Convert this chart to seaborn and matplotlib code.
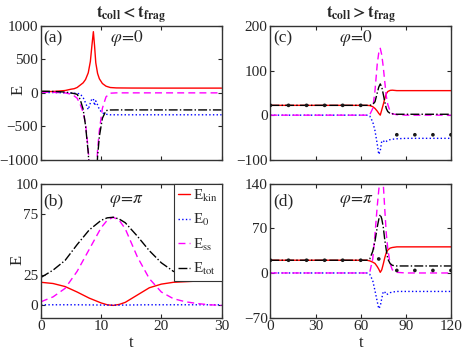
import seaborn as sns
import matplotlib.pyplot as plt

# ---- data ----
labels = ["E$_\\mathrm{kin}$", "E$_\\mathrm{0}$", "E$_\\mathrm{ss}$", "E$_\\mathrm{tot}$"]

# (a) t_coll < t_frag, phi = 0
t_a = [0, 2, 4, 5, 5.5, 6, 6.5, 7, 7.4, 7.85, 8.2, 8.45, 8.7, 8.9, 9.1, 9.4, 9.7,
       10.2, 10.8, 11.5, 12.5, 15, 20, 25, 30]
kin_a = [18, 20, 35, 55, 62, 80, 115, 150, 200, 300, 470, 700, 915, 700, 450, 290, 210,
         140, 100, 80, 74, 72, 71, 71, 71]
e0_a = [5, 5, 0, -3, -5, -8, -15, -70, -150, -250, -150, -90, -90, -190, -120, -180, -250,
        -300, -320, -328, -328, -328, -328, -328, -328]
ss_a = [10, 8, 0, -20, -45, -80, -170, -290, -460, -850, -1400, -1700, -1800, -1700, -1400,
        -850, -560, -230, -60, -5, 0, 0, 0, 0, 0]
tot_a = [25, 22, 12, -2, -10, -22, -96, -244, -490, -900, -1400, -1700, -1800, -1700, -1450,
         -950, -650, -380, -265, -256, -255, -255, -255, -255, -255]

# (b) t_coll < t_frag, phi = pi
t_b = [0, 2, 4, 6, 8, 10, 11, 12, 13, 14, 16, 18, 20, 22, 24, 26, 28, 30]
kin_b = [19, 18, 15.5, 11, 6, 2, 0.5, 0, 0.8, 2.5, 8.5, 14.5, 17.5, 19, 19.5, 20, 20, 20]
e0_b = [0.5, 0.5, 0.5, 0.5, 0.4, 0.3, 0.2, 0.2, 0.2, 0.3, 0.4, 0.5, 0.5, 0.5, 0.5, 0.5, 0.5, 0.5]
ss_b = [3, 7, 14, 28, 46, 64, 70, 72.5, 70, 63, 40, 22, 11, 5.5, 3, 1.5, 0.5, 0]
tot_b = [23, 29, 37, 50, 62, 70, 72, 72.5, 71, 68, 57, 45, 35, 28, 25, 23, 22.5, 22]

# (c) t_coll > t_frag, phi = 0
t_c = [0, 12, 24, 36, 48, 60, 64, 66, 68, 69.5, 71, 72, 73, 74, 75, 76, 77, 78, 79.5,
       81, 84, 90, 100, 110, 120]
kin_c = [22, 22, 22, 22, 22, 22, 22, 21.5, 19, 15, 9, 4, 0, 12, 24, 37, 48, 53, 55.5,
         56, 55, 55, 55, 55, 55]
e0_c = [0, 0, 0, 0, 0, 0, 0, -2, -15, -35, -65, -88, -80, -58, -57, -61, -59, -56, -55,
        -54, -53, -52, -52, -52, -52]
ss_c = [0, 0, 0, 0, 0, 0, 0, 1, 15, 55, 115, 140, 150, 135, 108, 75, 43, 24, 9,
        3, 1, 0, 0, 0, 0]
tot_c = [22, 22, 22, 22, 22, 22, 22, 22, 24, 30, 50, 63, 70, 63, 47, 30, 15, 8, 4,
         3, 2, 2, 2, 2, 2]
dot_t_c = [0, 12, 24, 36, 48, 60, 84, 96, 108, 120]
dot_c = [22, 22, 22, 22, 22, 22, -44, -44, -44, -44]

# (d) t_coll > t_frag, phi = pi
t_d = t_c
kin_d = [20, 20, 20, 20, 20, 20, 20, 19, 17, 15, 10, 6, 1, 5, 14, 24, 32, 36, 39,
         40, 41, 41, 41, 41, 41]
e0_d = [0, 0, 0, 0, 0, 0, 0, -2, -12, -28, -45, -56, -52, -40, -29, -30, -34, -33, -31,
        -30, -29, -29, -29, -29, -29]
ss_d = [0, 0, 0, 0, 0, 0, 0, 1, 22, 61, 105, 130, 150, 155, 140, 100, 62, 38, 15,
        5, 1, 0, 0, 0, 0]
tot_d = [20, 20, 20, 20, 20, 20, 20, 22, 34, 50, 72, 84, 92, 85, 72, 52, 36, 22, 15,
         12, 11, 11, 11, 11, 11]
dot_t_d = [0, 12, 24, 36, 48, 60, 72, 84, 96, 108, 120]
dot_d = [20, 20, 20, 20, 20, 20, 22, 4, 4, 4, 4]

colors = ["#ff0000", "#0000ff", "#ff00ff", "#000000"]
styles = ["-", ":", (0, (5, 3)), "-."]

sns.set_theme(style="ticks")
plt.rcParams["font.family"] = ["Liberation Serif", "DejaVu Serif"]
plt.rcParams["mathtext.fontset"] = "stix"
plt.rcParams["axes.edgecolor"] = "#333333"
plt.rcParams["axes.linewidth"] = 1.0
plt.rcParams["xtick.direction"] = "in"
plt.rcParams["ytick.direction"] = "in"

fig, axes = plt.subplots(2, 2, figsize=(4.63, 3.56), dpi=100)
fig.subplots_adjust(left=0.0886, right=0.974, top=0.927, bottom=0.108,
                    wspace=0.271, hspace=0.18)
ax_a, ax_c = axes[0]
ax_b, ax_d = axes[1]

panels = [
    (ax_a, t_a, [kin_a, e0_a, ss_a, tot_a], None, None),
    (ax_b, t_b, [kin_b, e0_b, ss_b, tot_b], None, None),
    (ax_c, t_c, [kin_c, e0_c, ss_c, tot_c], dot_t_c, dot_c),
    (ax_d, t_d, [kin_d, e0_d, ss_d, tot_d], dot_t_d, dot_d),
]
for ax, t, series, dt, dv in panels:
    for y, c, ls, lab in zip(series, colors, styles, labels):
        sns.lineplot(x=t, y=y, ax=ax, color=c, linestyle=ls, linewidth=1.0,
                     label=lab, legend=False)
    if dt is not None:
        sns.scatterplot(x=dt, y=dv, ax=ax, color="k", s=7, edgecolor="none",
                        zorder=5, legend=False)
    ax.tick_params(top=True, right=True, length=3, width=0.8, labelsize=11, pad=2)
    if ax.get_legend() is not None:
        ax.get_legend().remove()

ax_a.set(xlim=(0, 30), ylim=(-1000, 1000), xticks=[0, 10, 20, 30],
         yticks=[-1000, -500, 0, 500, 1000])
ax_a.set_xticklabels([])
ax_b.set(xlim=(0, 30), ylim=(-10, 100), xticks=[0, 10, 20, 30], yticks=[0, 25, 75, 100])
ax_c.set(xlim=(0, 120), ylim=(-100, 200), xticks=[0, 30, 60, 90, 120],
         yticks=[-100, 0, 100, 200])
ax_c.set_xticklabels([])
ax_d.set(xlim=(0, 120), ylim=(-70, 140), xticks=[0, 30, 60, 90, 120],
         yticks=[-70, 0, 70, 140])

ax_a.set_ylabel("E", fontsize=12)
ax_a.yaxis.set_label_coords(-0.083, 0.52)
ax_b.set_ylabel("E", fontsize=12)
ax_b.yaxis.set_label_coords(-0.088, 0.43)
ax_b.set_xlabel("t", fontsize=12, labelpad=1)
ax_d.set_xlabel("t", fontsize=12, labelpad=1)

ax_a.set_title(r"$\mathbf{t_{coll}<t_{frag}}$", fontsize=12, pad=3)
ax_c.set_title(r"$\mathbf{t_{coll}>t_{frag}}$", fontsize=12, pad=3)

for ax, tag, phi, yy in [(ax_a, "(a)", r"$\varphi\!=\!0$", 0.91),
                         (ax_c, "(c)", r"$\varphi\!=\!0$", 0.91),
                         (ax_b, "(b)", r"$\varphi\!=\!\pi$", 0.87),
                         (ax_d, "(d)", r"$\varphi\!=\!\pi$", 0.87)]:
    ax.text(0.015, yy, tag, transform=ax.transAxes, fontsize=12.5, va="center")
    ax.text(0.475, yy, phi, transform=ax.transAxes, fontsize=12.5, va="center", ha="center")

leg = ax_b.legend(loc="upper right", borderaxespad=0, fontsize=11, handlelength=0.8,
                  handletextpad=0.15, labelspacing=0.55, borderpad=0.25,
                  fancybox=False, framealpha=1, edgecolor="#333333")
leg.get_frame().set_linewidth(0.8)

fig.savefig("out.png", dpi=100)
